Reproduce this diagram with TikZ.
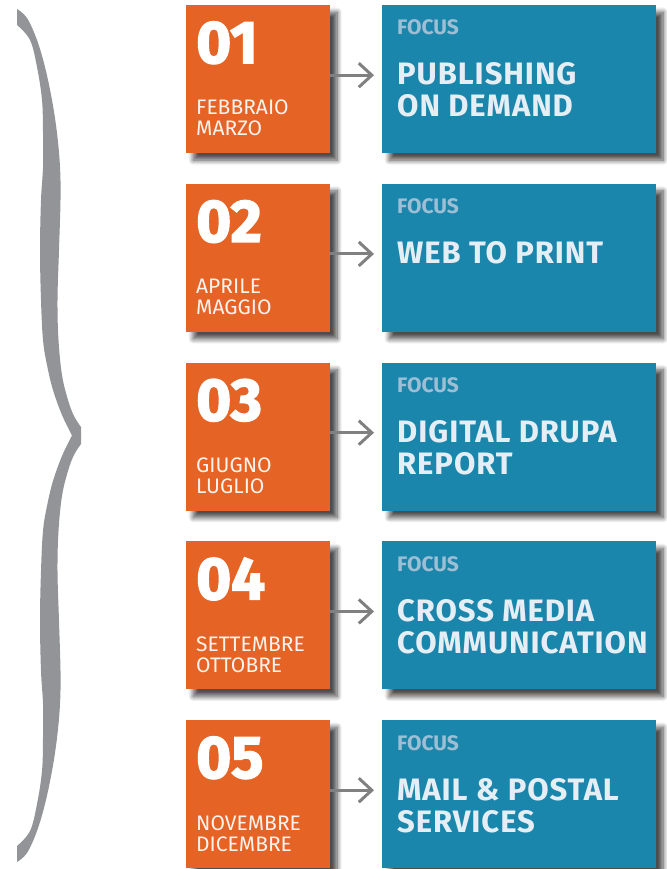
\documentclass[tikz,border=0pt]{standalone}
\usepackage{fontspec}
\setmainfont{Fira Sans}
\newfontfamily\numfont[BoldFeatures={FakeBold=2.5}]{Fira Sans}
\newfontfamily\lblfont{Fira Sans}
\newfontfamily\titfont[LetterSpace=3]{Fira Sans}
\usetikzlibrary{arrows.meta,shadows.blur}
\definecolor{borange}{HTML}{E46325}
\definecolor{bblue}{HTML}{1A86AB}
\definecolor{bgray}{HTML}{929497}
\definecolor{agray}{HTML}{808080}
\definecolor{focusc}{HTML}{9DBFD5}
\definecolor{titlec}{HTML}{E6EEF5}
\tikzset{
  boxshadow/.style={blur shadow={shadow xshift=7pt,shadow yshift=-7pt,shadow blur radius=5pt,shadow opacity=70,shadow blur steps=10}},
  obox/.style={fill=borange,anchor=north west,minimum width=144pt,minimum height=148pt,inner sep=0pt,boxshadow},
  bbox/.style={fill=bblue,anchor=north west,minimum width=274pt,minimum height=148pt,inner sep=0pt,boxshadow},
  numtxt/.style={anchor=base west,inner sep=0pt,text=white,font=\numfont\bfseries\fontsize{60}{60}\selectfont},
  montxt/.style={anchor=base west,inner sep=0pt,text=white!92!borange,font=\lblfont\fontsize{21}{21}\selectfont},
  foctxt/.style={anchor=base west,inner sep=0pt,text=focusc,font=\lblfont\bfseries\fontsize{21}{21}\selectfont},
  tittxt/.style={anchor=base west,inner sep=0pt,text=titlec,font=\titfont\bfseries\fontsize{31}{31}\selectfont},
  arr/.style={draw=agray,line width=3pt,-{Straight Barb[length=13pt,width=24pt,line width=3pt]}},
}
\begin{document}
\begin{tikzpicture}[x=1pt,y=-1pt]
\useasboundingbox (0,0) rectangle (666,869);
% brace
\fill[bgray]
  plot[smooth,tension=0.6] coordinates {(17,9) (27,18) (37,40) (45,67) (52,100) (57,133) (60,167) (60.5,200) (59,250) (57.5,300) (58.5,340) (62,375) (68,400) (74,416) (81,427)}
  -- (81,444)
  -- plot[smooth,tension=0.6] coordinates {(81,444) (74,455) (68,471) (62,496) (58.5,531) (57.5,571) (59,621) (60.5,671) (60,704) (57,738) (52,771) (45,804) (37,831) (27,853) (17,862)}
  -- (17,846)
  -- plot[smooth,tension=0.6] coordinates {(17,846) (30,831) (37,804) (42,771) (43,738) (43,704) (41,671) (40,621) (41,571) (43,531) (47,506) (53,481) (62,456) (72,435.5)}
  -- plot[smooth,tension=0.6] coordinates {(72,435.5) (62,415) (53,390) (47,365) (43,340) (41,300) (40,250) (41,200) (43,167) (43,133) (42,100) (37,67) (30,40) (17,25)}
  -- cycle;
% rows
\foreach \i/\t/\num/\ma/\mb/\ta/\tb in {
  1/5/01/FEBBRAIO/MARZO/PUBLISHING/ON DEMAND,
  2/183.75/02/APRILE/MAGGIO/WEB TO PRINT/,
  3/362.5/03/GIUGNO/LUGLIO/DIGITAL DRUPA/REPORT,
  4/541.25/04/SETTEMBRE/OTTOBRE/CROSS MEDIA/COMMUNICATION,
  5/720/05/NOVEMBRE/DICEMBRE/MAIL \& POSTAL/SERVICES}{
  \node[obox] (o\i) at (186,\t) {};
  \node[bbox] (b\i) at (382,\t) {};
  \node[numtxt] (n\i) at (196,\t+58) {\num};
  \node[montxt] (ma\i) at (196,\t+110) {\ma};
  \node[montxt] (mb\i) at (196,\t+131) {\mb};
  \node[foctxt] (f\i) at (397,\t+30) {FOCUS};
  \node[tittxt] (ta\i) at (397,\t+80) {\ta};
  \node[tittxt] (tb\i) at (397,\t+112) {\tb};
  \draw[arr] ([yshift=4pt]o\i.east) -- ([yshift=4pt,xshift=-8pt]b\i.west);
}
\end{tikzpicture}
\end{document}
